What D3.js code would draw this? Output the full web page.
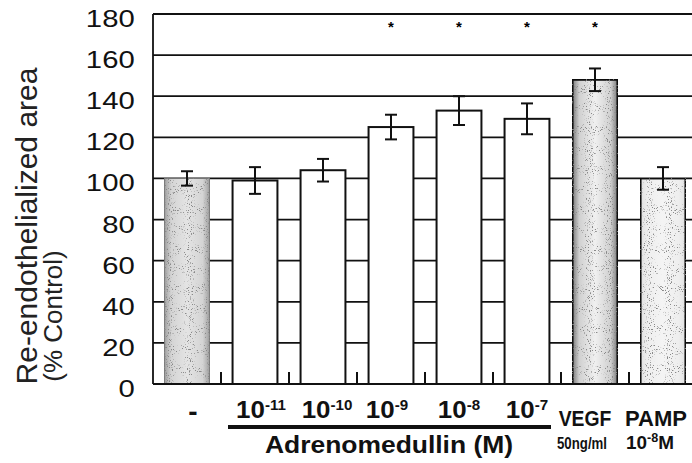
<!DOCTYPE html>
<html>
<head>
<meta charset="utf-8">
<script src="https://cdn.jsdelivr.net/npm/d3@7"></script>
<style>
  body { margin: 0; background: #fff; }
  svg { display: block; font-family: "Liberation Sans", Arial, sans-serif; }
</style>
</head>
<body>
<div id="chart"></div>
<script>
// data
var groups = ["control", "AM-11", "AM-10", "AM-9", "AM-8", "AM-7", "VEGF", "PAMP"];
var values = [100, 99, 104, 125, 133, 129, 148, 100];
var errors = [3.5, 6.5, 5.5, 6, 7, 7.5, 5.5, 5.5];
var significant = [false, false, false, true, true, true, true, false];
var yTicks = [0, 20, 40, 60, 80, 100, 120, 140, 160, 180];
var labelMain = ["-", "10", "10", "10", "10", "10", "VEGF", "PAMP"];
var labelSup = ["", "-11", "-10", "-9", "-8", "-7", "", ""];

var width = 692, height = 463;
var plotLeft = 153, plotTop = 14, plotBottom = 384;

var svg = d3.select("#chart")
  .append("svg")
    .attr("width", width)
    .attr("height", height);

var defs = svg.append("defs");

// stippled grey fills, darker toward the bar edges
function grad(id, edge, mid, centre) {
  var g = defs.append("linearGradient").attr("id", id)
    .attr("x1", "0%").attr("x2", "100%").attr("y1", "0%").attr("y2", "0%");
  g.append("stop").attr("offset", "0%").attr("stop-color", edge);
  g.append("stop").attr("offset", "15%").attr("stop-color", mid);
  g.append("stop").attr("offset", "50%").attr("stop-color", centre);
  g.append("stop").attr("offset", "85%").attr("stop-color", mid);
  g.append("stop").attr("offset", "100%").attr("stop-color", edge);
}
grad("gControl", "#a0a0a0", "#d4d4d4", "#e4e4e4");
grad("gVegf", "#7c7c7c", "#d0d0d0", "#f0f0f0");
grad("gPamp", "#e2e2e2", "#eeeeee", "#f4f4f4");

var f = defs.append("filter").attr("id", "grain")
  .attr("x", 0).attr("y", 0).attr("width", 1).attr("height", 1);
f.append("feTurbulence").attr("type", "fractalNoise")
  .attr("baseFrequency", 0.95).attr("numOctaves", 1).attr("seed", 4).attr("result", "noise");
f.append("feColorMatrix").attr("in", "noise").attr("type", "matrix")
  .attr("values", "0 0 0 0 0.25  0 0 0 0 0.25  0 0 0 0 0.25  10 0 0 0 -6.1").attr("result", "dots");
f.append("feComposite").attr("in", "dots").attr("in2", "SourceGraphic")
  .attr("operator", "in").attr("result", "clipped");
var fm = f.append("feMerge");
fm.append("feMergeNode").attr("in", "SourceGraphic");
fm.append("feMergeNode").attr("in", "clipped");

// scales
var x = d3.scaleBand()
  .domain(groups)
  .range([plotLeft, 697])
  .paddingInner(0.34)
  .paddingOuter(0.17);

var y = d3.scaleLinear()
  .domain([0, 180])
  .range([plotBottom, plotTop]);

// gridlines
svg.append("g")
  .selectAll("line")
  .data(yTicks.slice(1))
  .enter()
  .append("line")
    .attr("x1", plotLeft)
    .attr("x2", width)
    .attr("y1", function(d) { return y(d); })
    .attr("y2", function(d) { return y(d); })
    .attr("stroke", "#111")
    .attr("stroke-width", 1.8);

// Y axis labels
var yAxis = svg.append("g")
  .attr("transform", "translate(" + plotLeft + ",0)")
  .call(d3.axisLeft(y).tickValues(yTicks).tickSize(0).tickPadding(15));
yAxis.select(".domain").remove();
yAxis.selectAll("text")
  .attr("dy", "0.52em")
  .attr("transform", "scale(1.22,1)")
  .style("font-size", "24px")
  .style("fill", "#111");

// axis lines
svg.append("line")
  .attr("x1", plotLeft).attr("x2", plotLeft)
  .attr("y1", y(180)).attr("y2", y(0))
  .attr("stroke", "#111").attr("stroke-width", 1.8);

var fills = { control: "url(#gControl)", VEGF: "url(#gVegf)", PAMP: "url(#gPamp)" };

// Bars
svg.selectAll("rect.bar")
  .data(groups)
  .enter()
  .append("rect")
    .attr("class", "bar")
    .attr("x", function(d) { return x(d); })
    .attr("y", function(d, i) { return y(values[i]); })
    .attr("width", x.bandwidth())
    .attr("height", function(d, i) { return y(0) - y(values[i]); })
    .attr("fill", function(d) { return fills[d] || "#fff"; })
    .attr("filter", function(d) { return fills[d] ? "url(#grain)" : null; })
    .attr("stroke", function(d) { return d === "control" ? "#777" : "#111"; })
    .attr("stroke-width", function(d) { return d === "control" ? 1 : 2; });

svg.append("line")
  .attr("x1", plotLeft).attr("x2", width)
  .attr("y1", y(0)).attr("y2", y(0))
  .attr("stroke", "#111").attr("stroke-width", 2);

// small ticks between the bars
svg.append("g")
  .selectAll("line")
  .data(groups.slice(1))
  .enter()
  .append("line")
    .attr("x1", function(d) { return x(d) - x.step() * 0.17; })
    .attr("x2", function(d) { return x(d) - x.step() * 0.17; })
    .attr("y1", y(0))
    .attr("y2", y(0) - 12)
    .attr("stroke", "#111")
    .attr("stroke-width", 2);

// error bars
var eb = svg.append("g").attr("stroke", "#111").attr("stroke-width", 2);
groups.forEach(function(g, i) {
  var cx = x(g) + x.bandwidth() / 2;
  var hi = y(values[i] + errors[i]), lo = y(values[i] - errors[i]);
  eb.append("line").attr("x1", cx).attr("x2", cx).attr("y1", hi).attr("y2", lo);
  eb.append("line").attr("x1", cx - 6).attr("x2", cx + 6).attr("y1", hi).attr("y2", hi);
  eb.append("line").attr("x1", cx - 6).attr("x2", cx + 6).attr("y1", lo).attr("y2", lo);
});

// significance marks
svg.selectAll("text.star")
  .data(groups.filter(function(d, i) { return significant[i]; }))
  .enter()
  .append("text")
    .attr("class", "star")
    .attr("x", function(d) { return x(d) + x.bandwidth() / 2; })
    .attr("y", 32)
    .attr("text-anchor", "middle")
    .style("font-size", "15px")
    .style("font-weight", "bold")
    .text("*");

// X labels
var nudge = { control: 6, "AM-11": 6, "AM-10": 4, "AM-9": -4, VEGF: -10, PAMP: -7 };
var squeeze = { control: 1, VEGF: 0.88, PAMP: 1.0 };
groups.forEach(function(g, i) {
  var cx = x(g) + x.bandwidth() / 2 + (nudge[g] || 0);
  var big = g === "control";
  var ty = big ? 421 : (labelSup[i] ? 418 : 426);
  var t = svg.append("text")
    .attr("transform", "translate(" + cx + "," + ty + ") scale(" + (squeeze[g] || 1.08) + ",1)")
    .attr("text-anchor", "middle")
    .style("font-weight", "bold")
    .style("font-size", big ? "28px" : (labelSup[i] ? "24px" : "22px"))
    .style("fill", "#111");
  t.append("tspan").text(labelMain[i]);
  if (labelSup[i]) {
    t.append("tspan").attr("dy", -8).style("font-size", "14px").text(labelSup[i]);
  }
});

// dose line under adrenomedullin groups
svg.append("line")
  .attr("x1", 228).attr("x2", 551)
  .attr("y1", 427).attr("y2", 427)
  .attr("stroke", "#111").attr("stroke-width", 4);

svg.append("text")
  .attr("transform", "translate(389,453) scale(1.15,1)")
  .attr("text-anchor", "middle")
  .style("font-weight", "bold")
  .style("font-size", "23px")
  .style("fill", "#111")
  .text("Adrenomedullin (M)");

svg.append("text")
  .attr("x", 557).attr("y", 449)
  .attr("textLength", 50)
  .attr("lengthAdjust", "spacingAndGlyphs")
  .style("font-weight", "bold")
  .style("font-size", "17px")
  .style("fill", "#111")
  .text("50ng/ml");

var pm = svg.append("text")
  .attr("x", 626).attr("y", 449)
  .attr("textLength", 48)
  .attr("lengthAdjust", "spacingAndGlyphs")
  .style("font-weight", "bold")
  .style("font-size", "18px")
  .style("fill", "#111");
pm.append("tspan").text("10");
pm.append("tspan").attr("dy", -7).style("font-size", "12px").text("-8");
pm.append("tspan").attr("dy", 7).text("M");

// Y axis title
svg.append("text")
  .attr("transform", "translate(37,226) rotate(-90)")
  .attr("text-anchor", "middle")
  .style("font-size", "30px")
  .style("fill", "#222")
  .text("Re-endothelialized area");

svg.append("text")
  .attr("transform", "translate(62,316) rotate(-90)")
  .attr("text-anchor", "middle")
  .style("font-size", "26px")
  .style("fill", "#222")
  .text("(% Control)");
</script>
</body>
</html>
